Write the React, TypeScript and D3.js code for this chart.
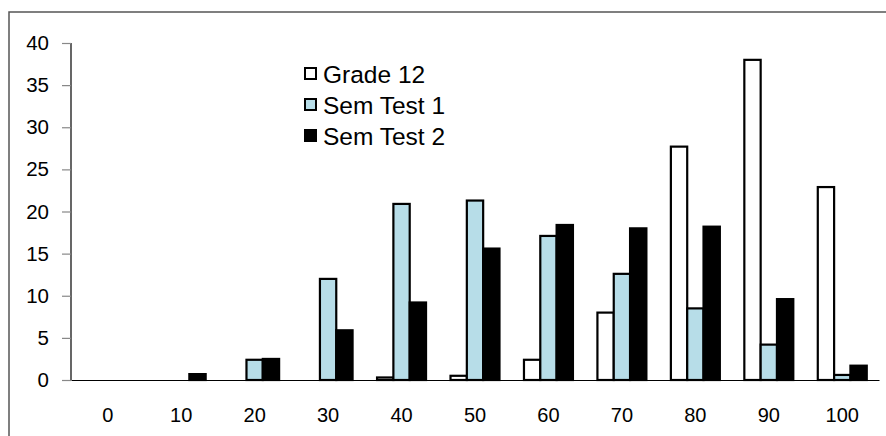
import React, { useEffect, useRef } from "react";
import * as d3 from "d3";

const categories = ["0", "10", "20", "30", "40", "50", "60", "70", "80", "90", "100"];
const seriesNames = ["Grade 12", "Sem Test 1", "Sem Test 2"];
const grade12 = [0, 0, 0, 0, 0.3, 0.5, 2.4, 8.0, 27.7, 38.0, 22.9];
const semTest1 = [0, 0, 2.4, 12.0, 20.9, 21.3, 17.1, 12.6, 8.5, 4.2, 0.6];
const semTest2 = [0, 0.7, 2.5, 5.9, 9.2, 15.6, 18.4, 18.0, 18.2, 9.6, 1.7];
const yTicks = [0, 5, 10, 15, 20, 25, 30, 35, 40];

const fills = ["#FFFFFF", "#B7DDE8", "#000000"];

export default function App() {
  const ref = useRef<SVGSVGElement | null>(null);

  useEffect(() => {
    const width = 886;
    const height = 436;
    const margin = { top: 43, right: 7, bottom: 56, left: 71 };
    const w = width - margin.left - margin.right;
    const h = height - margin.top - margin.bottom;

    const svg = d3.select(ref.current);
    svg.selectAll("*").remove();
    svg.attr("width", width).attr("height", height);

    // outer frame (runs off the right and bottom edges)
    svg.append("rect").attr("x", 9).attr("y", 12).attr("width", 900).attr("height", 440)
      .attr("fill", "#fff").attr("stroke", "#555").attr("stroke-width", 1.5);

    const g = svg.append("g").attr("transform", `translate(${margin.left},${margin.top})`);

    const x = d3.scaleBand().domain(categories).range([0, w]).padding(0);
    const xs = d3.scaleBand().domain(seriesNames).range([0, x.bandwidth()]).paddingInner(0).paddingOuter(0.75);
    const y = d3.scaleLinear().domain([0, 40]).range([h, 0]);

    const font = "Arial, 'Liberation Sans', sans-serif";

    // y axis
    const ya = g.append("g").call(d3.axisLeft(y).tickValues(yTicks).tickSize(9).tickPadding(13).tickFormat(d3.format("d")));
    ya.select(".domain").attr("stroke", "#000").attr("stroke-width", 1.2).attr("d", `M0,${y(40)}V${h}`);
    ya.selectAll(".tick line").attr("stroke", "#888").attr("stroke-width", 1.2);
    ya.selectAll(".tick text").attr("font-family", font).attr("font-size", 20.5).attr("fill", "#000");

    // bars
    const data = [grade12, semTest1, semTest2];
    data.forEach((vals, si) => {
      g.append("g").selectAll("rect").data(vals).enter().append("rect")
        .attr("x", (d, i) => (x(categories[i]) as number) + (xs(seriesNames[si]) as number))
        .attr("y", d => y(d))
        .attr("width", xs.bandwidth())
        .attr("height", d => h - y(d))
        .attr("fill", fills[si])
        .attr("stroke", "#000")
        .attr("stroke-width", d => (d > 0 ? 2.2 : 0));
    });

    // x axis
    const xa = g.append("g").attr("transform", `translate(0,${h})`)
      .call(d3.axisBottom(x).tickSize(0).tickPadding(28));
    xa.select(".domain").attr("stroke", "#000").attr("stroke-width", 1.2);
    xa.selectAll(".tick text").attr("font-family", font).attr("font-size", 20).attr("fill", "#000");

    // legend
    const leg = svg.append("g").attr("transform", "translate(304,68)");
    seriesNames.forEach((name, i) => {
      const row = leg.append("g").attr("transform", `translate(0,${i * 31})`);
      row.append("rect").attr("x", 1).attr("y", 0).attr("width", 11).attr("height", 11)
        .attr("fill", fills[i]).attr("stroke", "#000").attr("stroke-width", 2);
      row.append("text").attr("x", 19).attr("y", 6).attr("dy", "0.36em")
        .attr("font-family", font).attr("font-size", 24.5).attr("fill", "#000").text(name);
    });
  }, []);

  return (
    <div style={{ position: "absolute", left: 0, top: 0, width: 886, height: 436, overflow: "hidden", background: "#fff" }}>
      <svg ref={ref} style={{ display: "block" }} />
    </div>
  );
}
